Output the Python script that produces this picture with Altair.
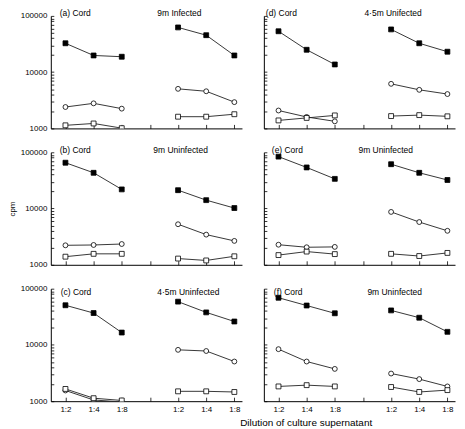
import altair as alt
import pandas as pd

FONT = "Liberation Sans"

panel_keys = ["a", "d", "b", "e", "c", "f"]          # concat order (2 columns)
left_labels = {"a": "(a) Cord", "b": "(b) Cord", "c": "(c) Cord",
               "d": "(d) Cord", "e": "(e) Cord", "f": "(f) Cord"}
right_labels = {"a": "9m Infected", "b": "9m Uninfected", "c": "4·5m Uninfected",
                "d": "4·5m Unifected", "e": "9m Uninfected", "f": "9m Uninfected"}

tick_labels = ["1:2", "1:4", "1:8", "", "1:2", "1:4", "1:8"]
positions = [0, 1, 2, 4, 5, 6]            # cord 1:2,1:4,1:8 | other 1:2,1:4,1:8
groups = ["cord", "cord", "cord", "other", "other", "other"]

filled_sq = {
    "a": [32600, 19800, 18800, 62400, 45400, 19800],
    "b": [65300, 43200, 21900, 21200, 14100, 10200],
    "c": [50700, 36900, 16600, 58800, 37900, 26100],
    "d": [53300, 25000, 13700, 57500, 32600, 23100],
    "e": [83700, 53800, 33700, 61400, 43200, 32200],
    "f": [69000, 50200, 36500, 41100, 30500, 17100],
}
open_circle = {
    "a": [2400, 2790, 2245, 5050, 4570, 2930],
    "b": [2220, 2250, 2340, 5260, 3440, 2660],
    "c": [1550, 1050, 970, 8180, 7800, 5070],
    "d": [2080, 1596, 1335, 6200, 4850, 4080],
    "e": [2275, 2050, 2080, 8710, 5750, 4020],
    "f": [8410, 5070, 3750, 3100, 2470, 1829],
}
open_sq = {
    "a": [1134, 1223, 1010, 1615, 1615, 1787],
    "b": [1394, 1566, 1566, 1290, 1195, 1416],
    "c": [1650, 1130, 1030, 1497, 1497, 1458],
    "d": [1387, 1536, 1702, 1656, 1722, 1640],
    "e": [1488, 1718, 1549, 1566, 1432, 1626],
    "f": [1829, 1928, 1829, 1787, 1458, 1573],
}

rows = []
for key in panel_keys:
    for series, table in (("filled", filled_sq), ("circle", open_circle), ("square", open_sq)):
        for p, g, v in zip(positions, groups, table[key]):
            rows.append({"panel": key, "series": series, "pos": p, "grp": g, "value": v})
df = pd.DataFrame(rows)
labels_df = pd.DataFrame([{"panel": k, "left": left_labels[k], "right": right_labels[k]}
                          for k in panel_keys])

W, H = 192, 113
minor_vals = [1000, 2000, 3000, 4000, 5000, 6000, 7000, 8000, 9000,
              10000, 20000, 30000, 40000, 50000, 60000, 70000, 80000, 90000, 100000]

# annotation offsets (pixels inside each panel)
lab_left_x = {"a": 9, "b": 9, "c": 10, "d": 2, "e": 8, "f": 10}
lab_right_x = {"a": 107, "b": 103, "c": 107, "d": 101, "e": 95, "f": 104}
lab_y = {"a": -3, "d": -3, "b": -2, "e": -2, "c": 3, "f": 3}

label_expr = "[" + ",".join("'%s'" % t for t in tick_labels) + "][datum.value]"


def panel(key, row, col):
    sub = df[df.panel == key]
    bottom = row == 2
    left = col == 0
    xaxis = dict(values=list(range(7)), tickSize=alt.ExprRef("-4"), labelPadding=8,
                 labels=bottom, domainColor="black", tickColor="black",
                 labelFontSize=8, labelFont=FONT, labelColor="black", grid=False)
    if bottom:
        xaxis["labelExpr"] = label_expr
    xtitle = None
    if key == "f":
        xtitle = "Dilution of culture supernatant"
        xaxis.update(titleX=42, titleY=24, titleBaseline="alphabetic", titleAlign="center",
                     titleFontSize=10, titleFont=FONT, titleFontWeight="normal",
                     titleColor="black")
    yaxis = dict(values=minor_vals, tickSize=alt.ExprRef("-3"), labelPadding=7,
                 labels=left, domainColor="black", tickColor="black",
                 labelFontSize=8, labelFont=FONT, labelColor="black", grid=False,
                 labelExpr="indexof([1000,10000,100000], datum.value) >= 0 ? format(datum.value, 'd') : ''")
    ytitle = None
    if key == "b":
        ytitle = "cpm"
        yaxis.update(titleFontSize=8, titleFont=FONT, titleFontWeight="normal",
                     titleColor="black", titlePadding=4)
    x = alt.X("pos:Q", scale=alt.Scale(domain=[-0.52, 6.27], nice=False, zero=False),
              axis=alt.Axis(**xaxis), title=xtitle)
    y = alt.Y("value:Q", scale=alt.Scale(type="log", domain=[1000, 100000], nice=False),
              axis=alt.Axis(**yaxis), title=ytitle)
    base = alt.Chart(sub)
    lines = base.mark_line(color="#222222", strokeWidth=0.9, clip=True).encode(
        x=x, y=y, detail=["series:N", "grp:N"], order="pos:Q")
    points = base.mark_point(filled=True, stroke="black", strokeWidth=0.8, size=24,
                             opacity=1, clip=True).encode(
        x=x, y=y,
        shape=alt.Shape("series:N", scale=alt.Scale(domain=["filled", "circle", "square"],
                                                   range=["square", "circle", "square"]),
                        legend=None),
        fill=alt.Fill("series:N", scale=alt.Scale(domain=["filled", "circle", "square"],
                                                 range=["black", "white", "white"]),
                      legend=None))
    lab = alt.Chart(labels_df).transform_filter(alt.datum.panel == key)
    t1 = lab.mark_text(align="left", baseline="middle", fontSize=8.5, font=FONT,
                       color="black").encode(
        x=alt.value(lab_left_x[key]), y=alt.value(lab_y[key]), text="left:N")
    t2 = lab.mark_text(align="left", baseline="middle", fontSize=8.5, font=FONT,
                       color="black").encode(
        x=alt.value(lab_right_x[key]), y=alt.value(lab_y[key]), text="right:N")
    return alt.layer(lines, points, t1, t2).properties(width=W, height=H)


layout = {"a": (0, 0), "d": (0, 1), "b": (1, 0), "e": (1, 1), "c": (2, 0), "f": (2, 1)}
charts = [panel(k, *layout[k]) for k in panel_keys]

chart = alt.concat(*charts, columns=2, bounds="flush",
                   spacing={"row": 24, "column": 22},
                   padding={"left": 0, "top": 0, "right": 2, "bottom": 0}
                   ).configure_view(stroke=None).configure_axis(domainWidth=1, tickWidth=0.8)

chart.save("out.html", embed_options={"renderer": "svg", "actions": False})
